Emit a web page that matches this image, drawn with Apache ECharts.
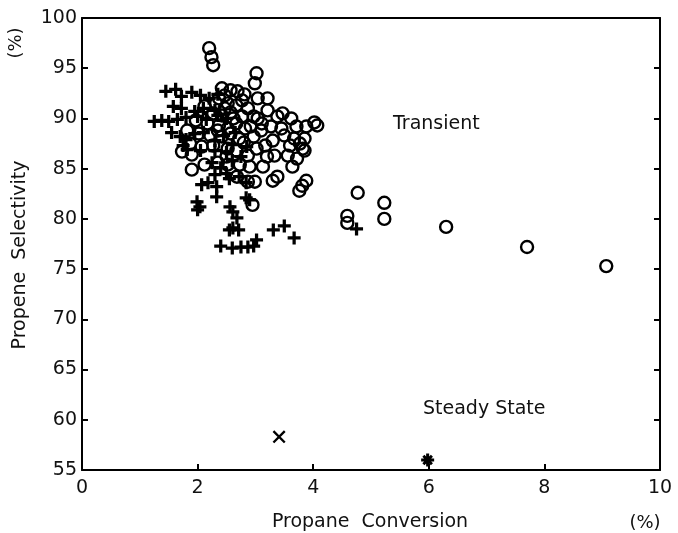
<!DOCTYPE html>
<html><head><meta charset="utf-8">
<script src="https://cdn.jsdelivr.net/npm/echarts@6/dist/echarts.min.js"></script>
<style>html,body{margin:0;padding:0;background:#fff}#c{width:678px;height:533px}</style>
</head><body><div id="c"></div>
<script>
var xTicks = [0, 2, 4, 6, 8, 10];
var yTicks = [55, 60, 65, 70, 75, 80, 85, 90, 95, 100];
var xAxisTitle = 'Propane  Conversion';
var yAxisTitle = 'Propene  Selectivity';
var transientCircles = [
 [2.2,97.0],[2.24,96.1],[2.27,95.3],
 [3.02,94.5],[2.99,93.5],
 [2.42,93.0],[2.57,92.8],[2.69,92.7],[2.81,92.4],[2.47,92.3],[2.37,92.0],[3.04,92.0],[3.21,92.0],
 [2.32,91.5],[2.52,91.5],[2.67,91.3],[2.87,91.0],[3.21,90.8],[2.12,91.2],[2.47,91.0],[2.77,91.8],
 [2.27,90.5],[2.42,90.3],[2.57,90.6],[2.77,90.2],[2.97,90.2],[3.04,90.0],[3.11,89.5],[3.38,90.2],[3.47,90.5],[3.62,90.0],[2.62,90.0],
 [1.97,89.8],[2.17,89.5],[2.37,89.3],[2.52,89.0],[2.67,89.5],[2.82,89.0],[2.92,89.2],[3.27,89.2],[3.71,89.2],[3.88,89.2],[4.07,89.3],[4.02,89.6],[3.1,88.8],[3.45,89.0],[2.35,88.8],
 [1.82,88.8],[2.02,88.5],[2.22,88.3],[2.42,88.2],[2.57,88.5],[2.72,88.0],[2.97,88.2],[3.3,87.8],[3.5,88.3],[3.67,88.0],[3.85,88.0],[3.77,87.5],[3.82,87.0],[2.8,87.6],[3.6,87.3],
 [1.87,87.5],[2.07,87.2],[2.27,87.3],[2.52,87.0],[2.67,86.8],[3.02,87.0],[3.17,87.3],[3.85,86.8],[3.72,86.0],[2.5,86.2],[3.2,86.2],
 [1.73,86.7],[1.9,86.4],[1.9,84.9],[2.12,85.4],[2.35,85.6],[2.52,85.4],[2.73,85.4],[2.9,85.2],
 [2.87,86.3],[3.13,85.2],[3.33,86.3],[3.56,86.3],[3.64,85.2],
 [2.68,84.2],[2.87,83.7],[2.99,83.7],[3.3,83.8],[3.38,84.2],[3.76,82.8],[3.81,83.3],[3.88,83.8],[2.95,81.4],
 [4.59,80.3],[4.59,79.6],[4.77,82.6],[5.23,81.6],[5.23,80.0],[6.3,79.2],[7.7,77.2],[9.07,75.3]
];
var transientPluses = [
 [1.45,92.7],[1.62,92.9],[1.72,92.2],[1.9,92.6],[2.05,92.3],[2.2,92.0],[2.35,92.4],
 [1.58,91.2],[1.72,91.0],[1.95,90.7],[2.1,91.0],[2.3,90.8],
 [1.25,89.7],[1.38,89.8],[1.5,89.7],[1.65,89.9],[1.8,90.1],[2.0,90.2],[2.15,89.9],[2.35,90.3],[2.5,90.0],
 [1.55,88.6],[1.7,88.2],[1.8,87.9],[1.95,88.5],[2.1,88.6],[2.3,87.8],[2.45,88.3],[2.65,88.6],
 [1.75,87.3],[1.82,86.9],[2.05,86.8],[2.3,86.8],[2.5,86.6],[2.6,87.4],[2.85,87.2],
 [2.25,85.6],[2.4,85.1],[2.6,85.8],[2.75,86.2],[2.5,84.5],
 [2.07,83.4],[2.18,83.6],[2.33,83.2],[2.33,82.2],[2.3,84.4],[2.72,84.2],[2.84,83.6],[2.55,84.0],
 [1.99,81.7],[2.04,81.2],[2.0,80.9],[2.84,82.1],[2.9,81.9],[2.56,81.2],[2.61,80.7],[2.68,80.1],[2.61,79.1],
 [2.55,78.9],[2.71,78.9],[3.31,78.9],[3.5,79.3],[3.67,78.1],[3.02,77.9],
 [2.4,77.3],[2.6,77.1],[2.75,77.2],[2.87,77.2],[2.97,77.3],
 [4.75,79.0]
];
var steadyCross = [[3.41,58.3]];
var steadyStar = [[5.98,56.0]];
var annotTransient = 'Transient';
var annotSteady = 'Steady State';

var FONT = '"DejaVu Sans", sans-serif';
var plusPath = 'path://M4.5,0H7.5V4.5H12V7.5H7.5V12H4.5V7.5H0V4.5H4.5Z';
var crossPath = 'path://M9.32,10.46L10.46,9.32L2.68,1.54L1.54,2.68Z M10.46,2.68L9.32,1.54L1.54,9.32L2.68,10.46Z';
var starPath = 'path://M4.6,0H7.4V4.6H12V7.4H7.4V12H4.6V7.4H0V4.6H4.6Z M1.1,3.0L3.0,1.1L10.9,9.0L9.0,10.9Z M3.0,10.9L1.1,9.0L9.0,1.1L10.9,3.0Z';

var chart = echarts.init(document.getElementById('c'), null, {renderer: 'canvas'});
var axisLineStyle = {color: '#000', width: 2};
chart.setOption({
  animation: false,
  backgroundColor: '#fff',
  grid: {left: 82, right: 18, top: 18, bottom: 63, containLabel: false},
  xAxis: [{
    type: 'value', min: xTicks[0], max: xTicks[xTicks.length - 1], interval: 2,
    axisLine: {show: true, lineStyle: axisLineStyle, onZero: false},
    axisTick: {show: true, inside: true, length: 6, lineStyle: {color: '#000', width: 2}},
    axisLabel: {color: '#111', fontSize: 19, fontFamily: FONT, margin: 9, showMinLabel: true, showMaxLabel: true},
    splitLine: {show: false}
  }, {
    type: 'value', position: 'top', min: xTicks[0], max: xTicks[xTicks.length - 1], interval: 2,
    axisLine: {show: true, lineStyle: axisLineStyle, onZero: false},
    axisTick: {show: false}, axisLabel: {show: false}, splitLine: {show: false}
  }],
  yAxis: [{
    type: 'value', min: yTicks[0], max: yTicks[yTicks.length - 1], interval: 5,
    axisLine: {show: true, lineStyle: axisLineStyle, onZero: false},
    axisTick: {show: true, inside: true, length: 6, lineStyle: {color: '#000', width: 2}},
    axisLabel: {color: '#111', fontSize: 19, fontFamily: FONT, margin: 5},
    splitLine: {show: false}
  }, {
    type: 'value', position: 'right', min: yTicks[0], max: yTicks[yTicks.length - 1], interval: 5,
    axisLine: {show: true, lineStyle: axisLineStyle, onZero: false},
    axisTick: {show: true, inside: true, length: 6, lineStyle: {color: '#000', width: 2}},
    axisLabel: {show: false}, splitLine: {show: false}
  }],
  series: [{
    type: 'scatter', data: transientPluses, symbol: plusPath, symbolSize: 13,
    itemStyle: {color: '#000', opacity: 1}, z: 3
  }, {
    type: 'scatter', data: transientCircles, symbol: 'circle', symbolSize: 12,
    itemStyle: {color: 'rgba(0,0,0,0)', borderColor: '#000', borderWidth: 2.4, opacity: 1}, z: 4
  }, {
    type: 'scatter', data: steadyCross, symbol: crossPath, symbolSize: 13,
    itemStyle: {color: '#000', opacity: 1}, z: 4
  }, {
    type: 'scatter', data: steadyStar, symbol: starPath, symbolSize: 13,
    itemStyle: {color: '#000', opacity: 1}, z: 4
  }],
  graphic: [
    {type: 'text', left: 393, top: 115, style: {text: annotTransient, font: '19px ' + FONT, fill: '#111'}},
    {type: 'text', left: 423, top: 400, style: {text: annotSteady, font: '19px ' + FONT, fill: '#111'}},
    {type: 'text', x: 370, y: 522, style: {text: xAxisTitle, font: '19px ' + FONT, fill: '#111', align: 'center', verticalAlign: 'middle'}},
    {type: 'text', x: 645, y: 523, style: {text: '(%)', font: '18px ' + FONT, fill: '#111', align: 'center', verticalAlign: 'middle'}},
    {type: 'text', x: 20, y: 255, rotation: Math.PI / 2, style: {text: yAxisTitle, font: '19px ' + FONT, fill: '#111', align: 'center', verticalAlign: 'middle'}},
    {type: 'text', x: 16, y: 43, rotation: Math.PI / 2, style: {text: '(%)', font: '18px ' + FONT, fill: '#111', align: 'center', verticalAlign: 'middle'}}
  ]
});
</script>
</body></html>
